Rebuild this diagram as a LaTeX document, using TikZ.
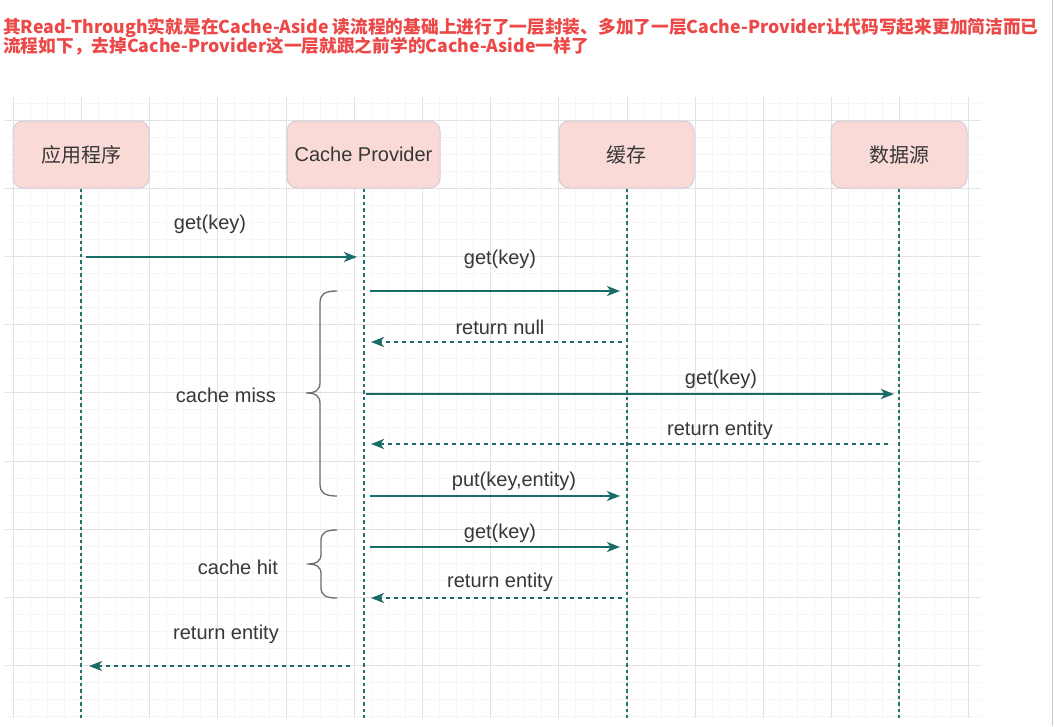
\documentclass[tikz,border=0pt]{standalone}
\usepackage{fontspec}
\setmainfont{Liberation Sans}
\newfontfamily\cjk{Noto Sans CJK SC}
\usetikzlibrary{arrows.meta}
\definecolor{titlered}{RGB}{236,72,72}
\definecolor{teal1}{RGB}{26,108,102}
\definecolor{teal2}{RGB}{36,116,110}
\definecolor{boxfill}{RGB}{250,218,214}
\definecolor{boxline}{RGB}{214,204,222}
\definecolor{txt}{RGB}{55,55,55}
\definecolor{gminor}{RGB}{245,245,245}
\definecolor{gmajor}{RGB}{226,226,226}
\definecolor{bracec}{RGB}{110,110,110}
\tikzset{
  minorline/.style={draw=gminor, line width=0.8pt},
  majorline/.style={draw=gmajor, line width=1pt},
  actor/.style={draw=boxline, fill=boxfill, rounded corners=10pt, line width=1pt,
    minimum height=67pt, inner sep=0pt, text=txt, font=\fontsize{20}{24}\selectfont},
  life/.style={draw=teal2, line width=2pt, dash pattern=on 3.5pt off 3pt},
  msg/.style={draw=teal1, line width=2pt, -{Stealth[length=13pt,width=10pt,inset=3.5pt]}},
  ret/.style={draw=teal1, line width=1.8pt, dash pattern=on 4.5pt off 3.5pt, -{Stealth[length=13pt,width=10pt,inset=3.5pt]}},
  lbl/.style={text=txt, font=\fontsize{20}{24}\selectfont, inner sep=0pt},
  titletext/.style={text=titlered, font=\cjk\bfseries\fontsize{17.7}{19}\selectfont, inner sep=0pt, anchor=base west},
  bracestyle/.style={draw=bracec, line width=1.3pt}
}
\begin{document}
\begin{tikzpicture}[x=1pt,y=-1pt]
\useasboundingbox (0,0) rectangle (1054,726);
\fill[white] (0,0) rectangle (1054,726);
% grid
\begin{scope}
  \clip (5,97) rectangle (981,718);
  \foreach \i in {-1,...,57} {\draw[minorline] ({13.2+17.05*\i},97) -- ({13.2+17.05*\i},718);}
  \foreach \i in {-2,...,35} {\draw[minorline] (5,{120+17.05*\i}) -- (981,{120+17.05*\i});}
  \foreach \i in {0,...,14} {\draw[majorline] ({13.2+68.2*\i},97) -- ({13.2+68.2*\i},718);}
  \foreach \i in {0,...,8} {\draw[majorline] (5,{120+68.2*\i}) -- (981,{120+68.2*\i});}
\end{scope}
% right frame line
\draw[draw={rgb,255:red,200;green,200;blue,200}, line width=1.2pt] (1052.5,0) -- (1052.5,726);
% title
\node[titletext] (t1) at (3,33) {其Read-Through实就是在Cache-Aside 读流程的基础上进行了一层封装、多加了一层Cache-Provider让代码写起来更加简洁而已};
\node[titletext] (t2) at (3,52) {流程如下，去掉Cache-Provider这一层就跟之前学的Cache-Aside一样了};
% actors
\node[actor, minimum width=136pt] (app) at (81,154.5) {\cjk 应用程序};
\node[actor, minimum width=153pt] (cp) at (363.5,154.5) {Cache Provider};
\node[actor, minimum width=135pt] (cache) at (626.5,154.5) {\cjk 缓存};
\node[actor, minimum width=136pt] (ds) at (899,154.5) {\cjk 数据源};
% lifelines
\coordinate (appEnd) at (81,718);
\coordinate (cpEnd) at (363.5,718);
\coordinate (cacheEnd) at (626.5,718);
\coordinate (dsEnd) at (899,718);
\draw[life] (app.south) -- (appEnd);
\draw[life] (cp.south) -- (cpEnd);
\draw[life] (cache.south) -- (cacheEnd);
\draw[life] (ds.south) -- (dsEnd);
% messages
\coordinate (m1a) at (86,257);   \coordinate (m1b) at (357,257);
\coordinate (m2a) at (370,291);  \coordinate (m2b) at (620,291);
\coordinate (m3a) at (622,342);  \coordinate (m3b) at (371,342);
\coordinate (m4a) at (366,394);  \coordinate (m4b) at (894,394);
\coordinate (m5a) at (888,444);  \coordinate (m5b) at (371,444);
\coordinate (m6a) at (370,496);  \coordinate (m6b) at (620,496);
\coordinate (m7a) at (370,547);  \coordinate (m7b) at (620,547);
\coordinate (m8a) at (622,598);  \coordinate (m8b) at (371,598);
\coordinate (m9a) at (350,666);  \coordinate (m9b) at (89,666);
\draw[msg] (m1a) -- (m1b);
\draw[msg] (m2a) -- (m2b);
\draw[ret] (m3a) -- (m3b);
\draw[msg] (m4a) -- (m4b);
\draw[ret] (m5a) -- (m5b);
\draw[msg] (m6a) -- (m6b);
\draw[msg] (m7a) -- (m7b);
\draw[ret] (m8a) -- (m8b);
\draw[ret] (m9a) -- (m9b);
% labels
\node[lbl] (l1) at (210,224) {get(key)};
\node[lbl] (l2) at (500,259) {get(key)};
\node[lbl] (l3) at (500,327) {return null};
\node[lbl] (l4) at (721,379) {get(key)};
\node[lbl] (l5) at (720,430) {return entity};
\node[lbl] (l6) at (514,481) {put(key,entity)};
\node[lbl] (l7) at (500,533) {get(key)};
\node[lbl] (l8) at (500,582) {return entity};
\node[lbl] (l9) at (226,634) {return entity};
\node[lbl] (lmiss) at (226,395) {cache miss};
\node[lbl] (lhit) at (238,567) {cache hit};
% braces
\draw[bracestyle] (337,291) .. controls (325,291) and (320,294) .. (320,303)
  -- (320,382) .. controls (320,390) and (316,393) .. (306,393)
  .. controls (316,393) and (320,396) .. (320,404)
  -- (320,484) .. controls (320,493) and (325,496) .. (337,496);
\draw[bracestyle] (337,530) .. controls (325,530) and (321,533) .. (321,541)
  -- (321,554) .. controls (321,561) and (317,564) .. (307,564)
  .. controls (317,564) and (321,567) .. (321,574)
  -- (321,587) .. controls (321,595) and (325,598) .. (337,598);
\end{tikzpicture}
\end{document}
